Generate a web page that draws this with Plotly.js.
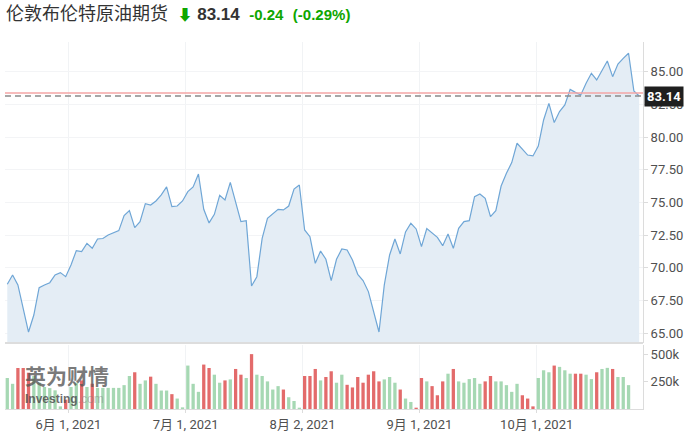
<!DOCTYPE html>
<html>
<head>
<meta charset="utf-8">
<script src="https://cdn.plot.ly/plotly-3.0.1.min.js"></script>
<style>
  html, body { margin: 0; padding: 0; background: #ffffff; }
  #chart { width: 694px; height: 436px; }
</style>
</head>
<body>
<div id="chart"></div>
<script>
// ---- data ----
const instrumentName = '伦敦布伦特原油期货';
const lastPrice = 83.14;
const change = '-0.24';
const changePct = '(-0.29%)';
const prevClose = 83.38;

const closePrices = [
  68.75, 69.46, 68.70, 66.78, 65.10, 66.40, 68.49, 68.70, 68.87, 69.46,
  69.64, 69.33, 70.22, 71.32, 71.25, 71.88, 71.50, 72.21, 72.25, 72.52,
  72.70, 72.85, 74.00, 74.38, 73.08, 73.54, 74.91, 74.81, 75.12, 75.58,
  76.19, 74.68, 74.73, 75.12, 75.83, 76.19, 77.18, 74.48, 73.44, 74.10,
  75.55, 75.19, 76.54, 75.02, 73.54, 73.61, 68.62, 69.33, 72.26, 73.79,
  74.10, 74.48, 74.43, 74.73, 76.03, 76.34, 72.90, 72.39, 70.35, 71.29,
  70.66, 69.03, 70.66, 71.45, 71.37, 70.61, 69.51, 69.03, 68.19, 66.53,
  65.10, 68.70, 70.99, 72.21, 71.07, 72.75, 73.41, 72.98, 71.63, 73.01,
  72.70, 72.34, 71.70, 72.59, 71.50, 73.03, 73.54, 73.61, 75.45, 75.65,
  75.32, 73.92, 74.38, 76.26, 77.23, 78.05, 79.53, 79.07, 78.63, 78.56,
  79.32, 81.31, 82.58, 81.11, 81.95, 82.46, 83.65, 83.42, 83.22, 84.11,
  84.88, 84.37, 85.13, 85.82, 84.62, 85.59, 86.02, 86.41, 83.53, 83.14
];

const volumes = [
  282000, 229000, 373000, 373000, 330000, 300000, 240000, 200000, 190000, 170000,
  24000, 85000, 200000, 240000, 260000, 200000, 230000, 192000, 192000, 192000,
  192000, 192000, 217000, 300000, 334000, 229000, 260000, 294000, 229000, 168000,
  168000, 135000, 95000, 15000, 395000, 229000, 156000, 404000, 373000, 312000,
  239000, 260000, 269000, 364000, 312000, 282000, 499000, 312000, 300000, 251000,
  177000, 208000, 177000, 107000, 73000, 12000, 300000, 300000, 364000, 260000,
  291000, 343000, 239000, 312000, 220000, 196000, 291000, 239000, 312000, 343000,
  251000, 269000, 291000, 239000, 177000, 95000, 64000, 12000, 282000, 251000,
  208000, 125000, 251000, 321000, 364000, 251000, 239000, 272000, 282000, 229000,
  251000, 300000, 251000, 251000, 217000, 156000, 229000, 125000, 95000, 24000,
  282000, 352000, 334000, 395000, 383000, 352000, 321000, 321000, 321000, 312000,
  272000, 334000, 364000, 374000, 364000, 291000, 291000, 217000, null, null
];

const dateTickIndex = [11.5, 33.6, 55.6, 77.6, 99.7];
const dateTickLabels = ['6月 1, 2021', '7月 1, 2021', '8月 2, 2021', '9月 1, 2021', '10月 1, 2021'];
const volTickValues = [250000, 500000];
const volTickLabels = ['250k', '500k'];

// ---- build chart ----
const GREEN = '#0ea600';
const UP_BAR = '#a6d8b3';
const DOWN_BAR = '#e36b6b';
const xIdx = closePrices.map((_, i) => i);
const barColors = closePrices.map((p, i) => (i === 0 || p >= closePrices[i - 1]) ? UP_BAR : DOWN_BAR);

const axisFont = { family: 'Roboto, "Noto Sans CJK SC", sans-serif', size: 13, color: '#505050' };

const priceTrace = {
  x: xIdx, y: closePrices, type: 'scatter', mode: 'lines',
  xaxis: 'x', yaxis: 'y',
  line: { color: '#6fa6d6', width: 1.2 },
  fill: 'tozeroy', fillcolor: '#e4edf5',
  hoverinfo: 'skip'
};

const volTrace = {
  x: xIdx, y: volumes, type: 'bar',
  xaxis: 'x', yaxis: 'y2',
  marker: { color: barColors },
  width: 0.62,
  hoverinfo: 'skip'
};

const titleText =
  '<span style="font-family:\'Noto Sans CJK SC\';font-size:18px;color:#333333">' + instrumentName + '</span>' +
  '  <span style="color:' + GREEN + ';font-size:15px">⬇</span> ' +
  '<b style="font-size:17px;color:#333333">' + lastPrice.toFixed(2) + '</b>  ' +
  '<b style="font-size:15px;color:' + GREEN + '">' + change + '</b>  ' +
  '<b style="font-size:15px;color:' + GREEN + '">' + changePct + '</b>';

const layout = {
  width: 694, height: 436,
  margin: { l: 5, r: 51, t: 42, b: 27, pad: 0 },
  paper_bgcolor: '#ffffff', plot_bgcolor: '#ffffff',
  showlegend: false,
  bargap: 0.38,
  title: {
    text: titleText,
    font: { family: '"Liberation Sans", Arial, "Noto Sans CJK SC", sans-serif', size: 17, color: '#333333' },
    xref: 'container', yref: 'container',
    x: 6 / 694, xanchor: 'left',
    y: 1 - 14 / 436, yanchor: 'middle'
  },
  xaxis: {
    range: [-0.43, 119.72],
    anchor: 'y2',
    tickmode: 'array', tickvals: dateTickIndex, ticktext: dateTickLabels,
    showgrid: true, gridcolor: '#f1f3f5', gridwidth: 1,
    zeroline: false,
    showline: true, linecolor: '#dcdcdc', linewidth: 1,
    ticks: 'outside', ticklen: 3, tickcolor: '#dcdcdc',
    tickfont: axisFont,
    fixedrange: true
  },
  yaxis: {
    domain: [0.1798, 1],
    anchor: 'x', side: 'right',
    range: [64.26, 87.27],
    tick0: 65, dtick: 2.5, tickformat: '.2f',
    showgrid: true, gridcolor: '#f3f4f6', gridwidth: 1,
    zeroline: false,
    showline: true, linecolor: '#dcdcdc', linewidth: 1,
    ticks: 'outside', ticklen: 4, tickcolor: '#dcdcdc',
    tickfont: axisFont,
    fixedrange: true
  },
  yaxis2: {
    domain: [0, 0.1744],
    anchor: 'x', side: 'right',
    range: [0, 582000],
    tickmode: 'array', tickvals: volTickValues, ticktext: volTickLabels,
    showgrid: false, zeroline: false,
    showline: true, linecolor: '#dcdcdc', linewidth: 1,
    ticks: 'outside', ticklen: 4, tickcolor: '#dcdcdc',
    tickfont: axisFont,
    fixedrange: true
  },
  shapes: [
    { type: 'line', xref: 'paper', x0: 0, x1: 1, yref: 'y domain', y0: 0, y1: 0,
      line: { color: '#dddddd', width: 2 } },
    { type: 'line', xref: 'paper', x0: 0, x1: 1, yref: 'y', y0: prevClose, y1: prevClose,
      line: { color: '#f4a6a6', width: 1.5 } },
    { type: 'line', xref: 'paper', x0: 0, x1: 1, yref: 'y', y0: lastPrice, y1: lastPrice,
      line: { color: '#8a8a8a', width: 1.6, dash: '6px,4px' } }
  ],
  annotations: [
    { xref: 'paper', x: 1, xanchor: 'left', xshift: 1, yref: 'y', y: lastPrice, yanchor: 'middle',
      text: '<b>' + lastPrice.toFixed(2) + '</b>', showarrow: false,
      bgcolor: '#1f1f1f', borderpad: 2,
      font: { family: 'Roboto, sans-serif', size: 13, color: '#ffffff' } },
    { xref: 'paper', x: 0.028, xanchor: 'left', yref: 'paper', y: 0.092, yanchor: 'middle',
      text: '<b>英为财情</b>', showarrow: false,
      font: { family: '"Noto Sans CJK SC", sans-serif', size: 21, color: 'rgba(85,85,85,0.78)' } },
    { xref: 'paper', x: 0.028, xanchor: 'left', yref: 'paper', y: 0.026, yanchor: 'middle',
      text: '<b>Investing</b><span style="color:rgba(130,130,130,0.6)">.com</span>', showarrow: false,
      font: { family: '"Liberation Sans", Arial, sans-serif', size: 12, color: 'rgba(75,75,75,0.82)' } }
  ]
};

Plotly.newPlot('chart', [priceTrace, volTrace], layout, { displayModeBar: false, staticPlot: true });
</script>
</body>
</html>
